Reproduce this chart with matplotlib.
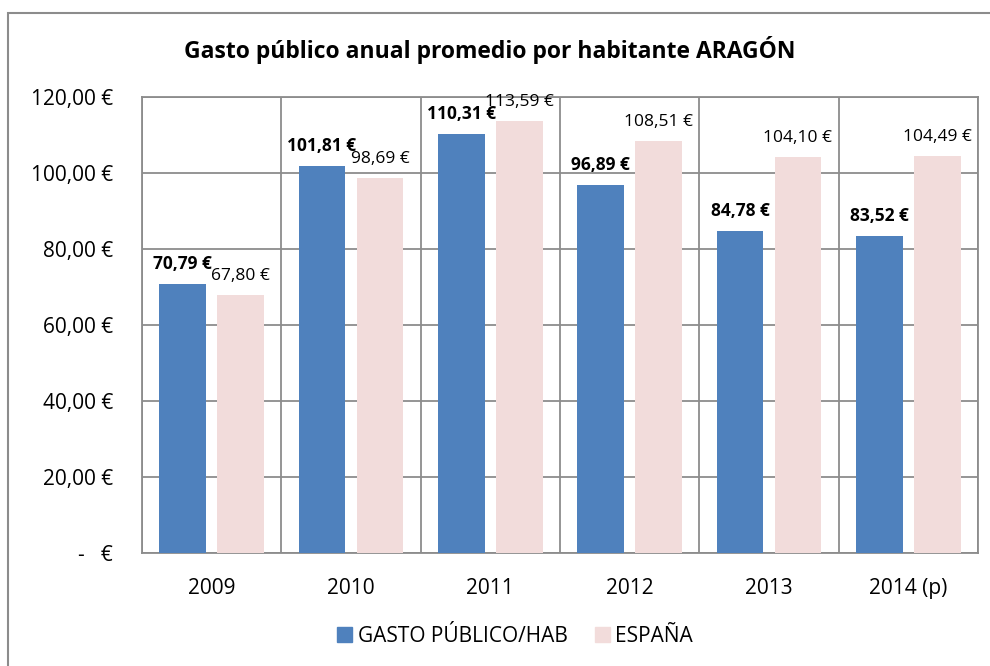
import numpy as np
import matplotlib
matplotlib.use('Agg')
import matplotlib.pyplot as plt
from matplotlib.patches import Rectangle, Patch

plt.rcParams['font.family'] = ['Open Sans', 'DejaVu Sans']

years = ['2009', '2010', '2011', '2012', '2013', '2014 (p)']
aragon = [70.79, 101.81, 110.31, 96.89, 84.78, 83.52]
espana = [67.80, 98.69, 113.59, 108.51, 104.10, 104.49]
series_names = ['GASTO PÚBLICO/HAB', 'ESPAÑA']
yticks = [0, 20, 40, 60, 80, 100, 120]

BLUE = '#4F81BD'; PINK = '#F2DCDB'; GRID = '#8C8C8C'


def eur(v):
    if v == 0:
        return '-   €'
    return f'{v:,.2f}'.replace(',', 'X').replace('.', ',').replace('X', '.') + ' €'


fig = plt.figure(figsize=(9.9, 6.66), dpi=100)
fig.patches.append(Rectangle((8/990, -0.1), 1.2, 1 - 13/666 + 0.1, transform=fig.transFigure,
                             fill=False, edgecolor='#8C8C8C', lw=1.5))
ax = fig.add_axes([142/990, 1 - 553/666, (978-142)/990, (553-97)/666])

x = np.arange(len(years))
w = 0.337; off = 0.208
ax.bar(x - off, aragon, w, color=BLUE, zorder=3)
ax.bar(x + off, espana, w, color=PINK, zorder=3)

for xi, a, e in zip(x, aragon, espana):
    ax.annotate(eur(a), (xi - off, a), xytext=(0, 8), textcoords='offset points',
                ha='center', va='bottom', fontsize=12.5, fontweight='bold', zorder=4)
    ax.annotate(eur(e), (xi + off, e), xytext=(0, 8), textcoords='offset points',
                ha='center', va='bottom', fontsize=12.5, zorder=4)

ax.set_xlim(-0.5, len(years) - 0.5)
ax.set_ylim(0, 120)
ax.set_yticks(yticks)
ax.set_yticklabels([eur(v) for v in yticks], fontsize=15)
ax.set_xticks(x)
ax.set_xticklabels(years, fontsize=15)
ax.set_xticks(np.arange(len(years) + 1) - 0.5, minor=True)
ax.tick_params(axis='both', which='both', length=0)
ax.tick_params(axis='y', pad=21)
ax.tick_params(axis='x', pad=18)
ax.grid(axis='y', which='major', color=GRID, lw=1.3, zorder=0)
ax.grid(axis='x', which='minor', color=GRID, lw=1.3, zorder=0)
ax.grid(axis='x', which='major', visible=False)
for s in ax.spines.values():
    s.set_color(GRID); s.set_linewidth(1.3)

fig.text(490/990, 1 - 50/666, 'Gasto público anual promedio por habitante ARAGÓN',
         ha='center', va='center', fontsize=16.5, fontweight='bold')
handles = [Patch(color=BLUE), Patch(color=PINK)]
fig.legend(handles, series_names, loc='center', bbox_to_anchor=(515/990, 1 - 636/666),
           ncol=2, frameon=False, fontsize=15, handlelength=0.75, handleheight=0.75,
           handletextpad=0.25, columnspacing=1.3)

fig.savefig('out.png', dpi=100)
